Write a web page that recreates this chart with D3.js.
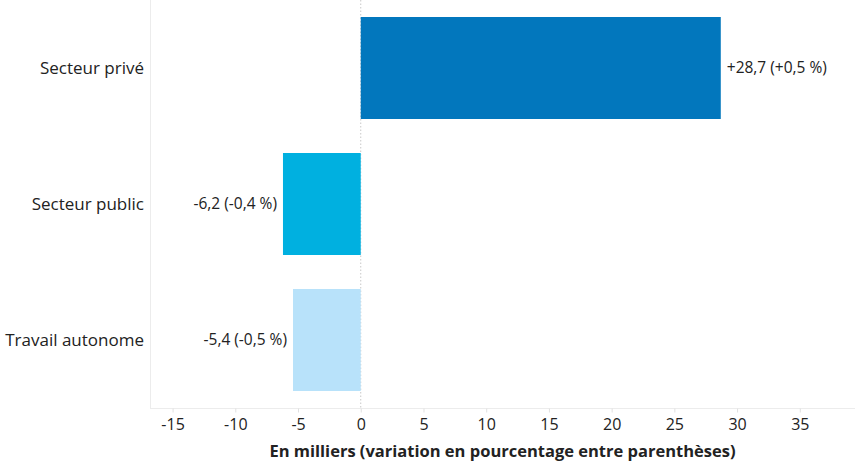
<!DOCTYPE html>
<html>
<head>
<meta charset="utf-8">
<script src="https://cdn.jsdelivr.net/npm/d3@7"></script>
<style>
  body { margin: 0; background: #fff; }
  text { font-family: "Open Sans", sans-serif; fill: #222; }
</style>
</head>
<body>
<div class="chart"></div>
<script>
var categories = ["Secteur privé", "Secteur public", "Travail autonome"];
var values = [28.7, -6.2, -5.4];
var labels = ["+28,7 (+0,5 %)", "-6,2 (-0,4 %)", "-5,4 (-0,5 %)"];
var colors = ["#0277bd", "#00b0e0", "#b8e2fa"];
var tickValues = [-15, -10, -5, 0, 5, 10, 15, 20, 25, 30, 35];
var axisTitle = "En milliers (variation en pourcentage entre parenthèses)";

var width = 855, height = 471;
var margin = {left: 150, right: 0, top: 0, bottom: 63};

var svg = d3.select("body div.chart").append("svg")
    .attr("width", width).attr("height", height);

var x = d3.scaleLinear()
    .domain([-16.8, 39.4])
    .range([margin.left, width - margin.right]);

var y = d3.scaleBand()
    .domain(categories)
    .range([margin.top, height - margin.bottom])
    .paddingInner(0.25)
    .paddingOuter(0.125);

// plot frame
svg.append("rect")
    .attr("x", margin.left + 0.5)
    .attr("y", margin.top - 1)
    .attr("width", width - margin.left + 2)
    .attr("height", height - margin.bottom - margin.top + 1.5)
    .attr("fill", "none")
    .attr("stroke", "#ececec");

// zero line
svg.append("line")
    .attr("x1", x(0)).attr("x2", x(0))
    .attr("y1", margin.top).attr("y2", height - margin.bottom)
    .attr("stroke", "#c8c8c8")
    .attr("stroke-dasharray", "1.5,2");

svg.selectAll("rect.bar")
    .data(values)
    .enter().append("rect")
        .attr("class", "bar")
        .attr("x", function(d) { return x(Math.min(0, d)); })
        .attr("y", function(d, i) { return y(categories[i]); })
        .attr("width", function(d) { return Math.abs(x(d) - x(0)); })
        .attr("height", y.bandwidth())
        .attr("fill", function(d, i) { return colors[i]; });

svg.selectAll("text.val")
    .data(values)
    .enter().append("text")
        .attr("class", "val")
        .attr("x", function(d) { return d < 0 ? x(d) - 6 : x(d) + 6; })
        .attr("y", function(d, i) { return y(categories[i]) + y.bandwidth() / 2; })
        .attr("dy", "0.35em")
        .attr("text-anchor", function(d) { return d < 0 ? "end" : "start"; })
        .style("font-size", "15.5px")
        .text(function(d, i) { return labels[i]; });

svg.selectAll("text.cat")
    .data(categories)
    .enter().append("text")
        .attr("class", "cat")
        .attr("x", margin.left - 6)
        .attr("y", function(d) { return y(d) + y.bandwidth() / 2; })
        .attr("dy", "0.35em")
        .attr("text-anchor", "end")
        .style("font-size", "17px")
        .text(function(d) { return d; });

var xAxis = svg.append("g")
    .attr("transform", "translate(0," + (height - margin.bottom + 0.5) + ")")
    .call(d3.axisBottom(x).tickValues(tickValues).tickSize(4).tickPadding(6)
        .tickFormat(function(d) { return String(d); }));
xAxis.select(".domain").remove();
xAxis.selectAll(".tick line").attr("stroke", "#e0e0e0");
xAxis.selectAll(".tick text")
    .style("font-family", "'Open Sans', sans-serif")
    .style("font-size", "16px")
    .attr("fill", "#222");

svg.append("text")
    .attr("x", (margin.left + width) / 2)
    .attr("y", 457)
    .attr("text-anchor", "middle")
    .style("font-size", "16.5px")
    .style("font-weight", "bold")
    .text(axisTitle);
</script>
</body>
</html>
